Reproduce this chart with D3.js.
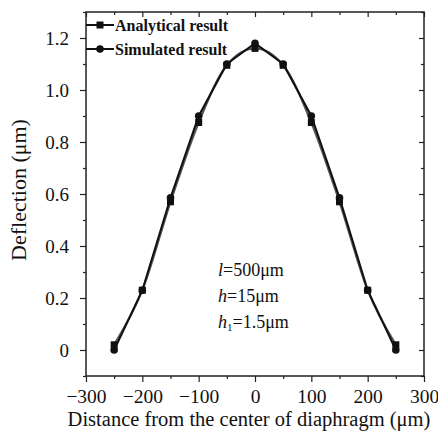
<!DOCTYPE html>
<html><head><meta charset="utf-8">
<script src="https://cdn.jsdelivr.net/npm/d3@7"></script>
<style>body{margin:0;background:#fff}svg{display:block}text{font-family:"Liberation Serif","Times New Roman",serif;fill:#111}</style>
</head><body><svg id="c" width="438" height="437"></svg>
<script>
const xs = [-250,-200,-150,-100,-50,0,50,100,150,200,250];
const analytical = [0.02,0.23,0.57,0.875,1.095,1.16,1.095,0.875,0.57,0.23,0.02];
const simulated = [0.0,0.23,0.585,0.90,1.10,1.18,1.10,0.90,0.585,0.23,0.0];
const xTicks = [-300,-200,-100,0,100,200,300];
const yTicks = [0,0.2,0.4,0.6,0.8,1.0,1.2];

const svg = d3.select("#c");
const L=86,R=424,T=12,B=376;
const x = d3.scaleLinear().domain([-300,300]).range([L,R]);
const y = d3.scaleLinear().domain([-0.1,1.3]).range([B,T]);
const xMinor = d3.range(-250,300,100);
const yMinor = d3.range(-0.1,1.35,0.2).map(v=>+v.toFixed(2));

const fmtX = d=> d<0 ? "\u2212"+Math.abs(d) : String(d);
const fmtY = d=> d===0 ? "0" : d.toFixed(1);

function axis(g, ax){ g.call(ax); g.select(".domain").remove(); g.selectAll("line").attr("stroke","#222").attr("stroke-width",1.2); g.attr("font-family",null); }
// bottom
svg.append("g").attr("transform",`translate(0,${B})`).call(g=>axis(g,d3.axisBottom(x).tickValues(xTicks).tickSize(6).tickPadding(7).tickFormat(fmtX)))
  .selectAll("text").attr("font-size",19.5).attr("dy","0.71em");
svg.append("g").attr("transform",`translate(0,${B})`).call(g=>axis(g,d3.axisBottom(x).tickValues(xMinor).tickSize(3).tickFormat("")));
// top
svg.append("g").attr("transform",`translate(0,${T})`).call(g=>axis(g,d3.axisBottom(x).tickValues(xTicks).tickSize(5).tickFormat("")));
svg.append("g").attr("transform",`translate(0,${T})`).call(g=>axis(g,d3.axisBottom(x).tickValues(xMinor).tickSize(3).tickFormat("")));
// left
svg.append("g").attr("transform",`translate(${L},0)`).call(g=>axis(g,d3.axisLeft(y).tickValues(yTicks).tickSize(6).tickPadding(11).tickFormat(fmtY)))
  .selectAll("text").attr("font-size",19).attr("dy","0.35em");
svg.append("g").attr("transform",`translate(${L},0)`).call(g=>axis(g,d3.axisLeft(y).tickValues(yMinor).tickSize(3).tickFormat("")));
// right
svg.append("g").attr("transform",`translate(${R},0)`).call(g=>axis(g,d3.axisLeft(y).tickValues(yTicks).tickSize(5).tickFormat("")));
svg.append("g").attr("transform",`translate(${R},0)`).call(g=>axis(g,d3.axisLeft(y).tickValues(yMinor).tickSize(3).tickFormat("")));

svg.append("rect").attr("x",L).attr("y",T).attr("width",R-L).attr("height",B-T).attr("fill","none").attr("stroke","#222").attr("stroke-width",1.5);

const ptsA = xs.map((v,i)=>[v,analytical[i]]);
const ptsS = xs.map((v,i)=>[v,simulated[i]]);
const lineSmooth = d3.line().x(d=>x(d[0])).y(d=>y(d[1])).curve(d3.curveMonotoneX);
const lineStraight = d3.line().x(d=>x(d[0])).y(d=>y(d[1]));
svg.append("path").attr("d",lineSmooth(ptsA)).attr("fill","none").attr("stroke","#555").attr("stroke-width",2.2);
svg.append("path").attr("d",lineStraight(ptsS)).attr("fill","none").attr("stroke","#111").attr("stroke-width",2);
svg.selectAll(".sq").data(ptsA).join("rect").attr("x",d=>x(d[0])-3.5).attr("y",d=>y(d[1])-3.5).attr("width",7).attr("height",7).attr("fill","#111");
svg.selectAll(".ci").data(ptsS).join("circle").attr("cx",d=>x(d[0])).attr("cy",d=>y(d[1])).attr("r",3.8).attr("fill","#111");

// legend
const lg = svg.append("g");
lg.append("line").attr("x1",L).attr("x2",114).attr("y1",25).attr("y2",25).attr("stroke","#111").attr("stroke-width",2);
lg.append("rect").attr("x",100-3.5).attr("y",25-3.5).attr("width",7).attr("height",7).attr("fill","#111");
lg.append("text").attr("x",115).attr("y",31).attr("font-size",16).attr("font-weight","bold").text("Analytical result");
lg.append("line").attr("x1",L).attr("x2",114).attr("y1",49).attr("y2",49).attr("stroke","#111").attr("stroke-width",2);
lg.append("circle").attr("cx",100).attr("cy",49).attr("r",3.8).attr("fill","#111");
lg.append("text").attr("x",115).attr("y",55).attr("font-size",16).attr("font-weight","bold").text("Simulated result");

// annotations
const a1 = svg.append("text").attr("x",218).attr("y",276).attr("font-size",18);
a1.append("tspan").attr("font-style","italic").text("l");
a1.append("tspan").text("=500\u03bcm");
const a2 = svg.append("text").attr("x",218).attr("y",302).attr("font-size",18);
a2.append("tspan").attr("font-style","italic").text("h");
a2.append("tspan").text("=15\u03bcm");
const a3 = svg.append("text").attr("x",218).attr("y",328).attr("font-size",18);
a3.append("tspan").attr("font-style","italic").text("h");
a3.append("tspan").attr("font-size",11).attr("dy",3).text("1");
a3.append("tspan").attr("dy",-3).text("=1.5\u03bcm");

// axis titles
svg.append("text").attr("x",249).attr("y",426).attr("text-anchor","middle").attr("font-size",20.5).text("Distance from the center of diaphragm (\u03bcm)");
svg.append("text").attr("transform",`translate(26,190) rotate(-90)`).attr("text-anchor","middle").attr("font-size",22).text("Deflection (\u03bcm)");
</script></body></html>
